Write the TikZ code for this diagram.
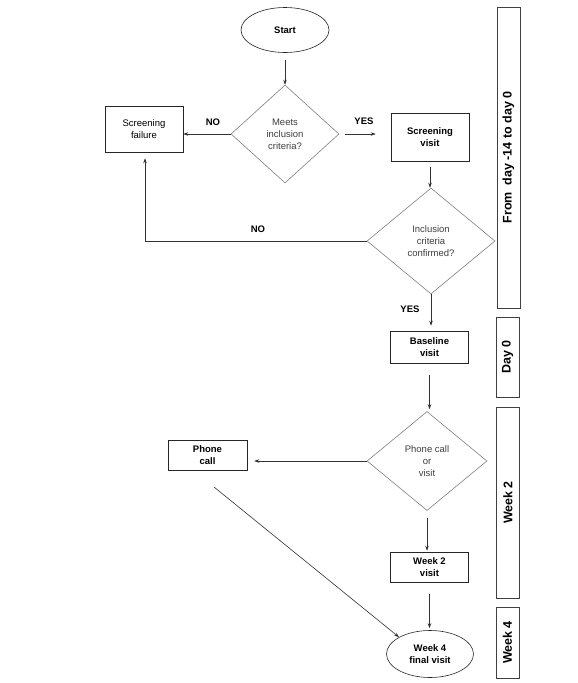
\documentclass[tikz,border=0pt]{standalone}
\usepackage{fontspec}
\setmainfont{Liberation Sans}
\usetikzlibrary{shapes.geometric,arrows.meta}
\begin{document}
\begin{tikzpicture}[x=1pt,y=-1pt,
  txt/.style={font=\fontsize{9.5}{12}\selectfont},
  btxt/.style={font=\fontsize{9.5}{12}\selectfont\bfseries},
  box/.style={draw=black!85, line width=0.6pt, rectangle, inner sep=0pt, align=center, minimum width=78pt},
  dia/.style={draw=black!50, line width=0.6pt, diamond, inner sep=0pt, align=center, text=black!75, font=\fontsize{9.5}{12}\selectfont},
  ell/.style={draw=black!85, line width=0.6pt, ellipse, inner sep=0pt, align=center, font=\fontsize{9.5}{12}\selectfont\bfseries},
  side/.style={draw=black!75, line width=0.6pt, rectangle, inner sep=0pt, minimum width=23pt, font=\fontsize{12.5}{15}\selectfont\bfseries},
  arr/.style={draw=black!80, line width=0.6pt, -{Stealth[length=5pt,width=3.5pt]}},
  lab/.style={font=\fontsize{9.5}{12}\selectfont\bfseries}
]
\useasboundingbox (0,0) rectangle (578,683);
\fill[white] (0,0) rectangle (578,683);

% nodes
\node[ell, minimum width=88pt, minimum height=45pt] (start) at (285,30) {Start};
\node[dia, minimum width=108pt, minimum height=98pt] (d1) at (285,134) {Meets\\inclusion\\criteria?};
\node[box, txt, minimum height=46pt] (fail) at (144,129) {Screening\\failure};
\node[box, btxt, minimum height=48pt] (sv) at (430,137) {Screening\\visit};
\node[dia, minimum width=128pt, minimum height=106pt] (d2) at (431,241) {Inclusion\\criteria\\confirmed?};
\node[box, btxt, minimum height=32pt] (base) at (429.5,347) {Baseline\\visit};
\node[dia, minimum width=120pt, minimum height=99pt] (d3) at (427,461) {Phone call\\or\\visit};
\node[box, btxt, minimum width=79pt, minimum height=30pt] (phone) at (207.5,455) {Phone\\call};
\node[box, btxt, minimum height=30pt] (w2) at (429.5,567) {Week 2\\visit};
\node[ell, minimum width=87pt, minimum height=47pt] (w4) at (430,654) {Week 4\\final visit};

% side boxes
\node[side, minimum height=301pt] (p1) at (508.5,157.5) {};
\node[rotate=90, font=\fontsize{12.5}{15}\selectfont\bfseries] (p1t) at (p1.center) {From\ \ day -14 to day 0};
\node[side, minimum height=80pt] (p2) at (507.5,357) {};
\node[rotate=90, font=\fontsize{12.5}{15}\selectfont\bfseries] (p2t) at (p2.center) {Day 0};
\node[side, minimum height=191pt] (p3) at (508,502.5) {};
\node[rotate=90, font=\fontsize{12.5}{15}\selectfont\bfseries] (p3t) at (p3.center) {Week 2};
\node[side, minimum height=71pt] (p4) at (507.5,642.5) {};
\node[rotate=90, font=\fontsize{12.5}{15}\selectfont\bfseries] (p4t) at (p4.center) {Week 4};

% labels
\node[lab] (no1) at (213,122) {NO};
\node[lab] (yes1) at (364,121) {YES};
\node[lab] (no2) at (258,229) {NO};
\node[lab] (yes2) at (410,309) {YES};

% connectors
\draw[arr, shorten <=7pt] (start.south) -- (start.south |- d1.north);
\draw[arr] (d1.west) -- (d1.west -| fail.east);
\draw[arr, shorten <=6pt, shorten >=15pt] (d1.east) -- (d1.east -| sv.west);
\draw[arr, shorten <=6pt] (sv.south) -- (sv.south |- d2.north);
\coordinate (c1) at (145,241);
\draw[arr, shorten >=6pt] (d2.west) -- (c1) -- (c1 |- fail.south);
\draw[arr, shorten >=5pt] (d2.south) -- (d2.south |- base.north);
\draw[arr, shorten <=12pt, shorten >=2pt] (base.south) -- (base.south |- d3.north);
\draw[arr, shorten >=7pt] (d3.west) -- (d3.west -| phone.east);
\draw[arr, shorten <=7pt, shorten >=1pt] (d3.south) -- (d3.south |- w2.north);
\draw[arr, shorten <=12pt, shorten >=2pt] (w2.south) -- (w2.south |- w4.north);
\coordinate (c2) at (214,487);
\draw[arr] (c2) -- (w4.north west);
\end{tikzpicture}
\end{document}
